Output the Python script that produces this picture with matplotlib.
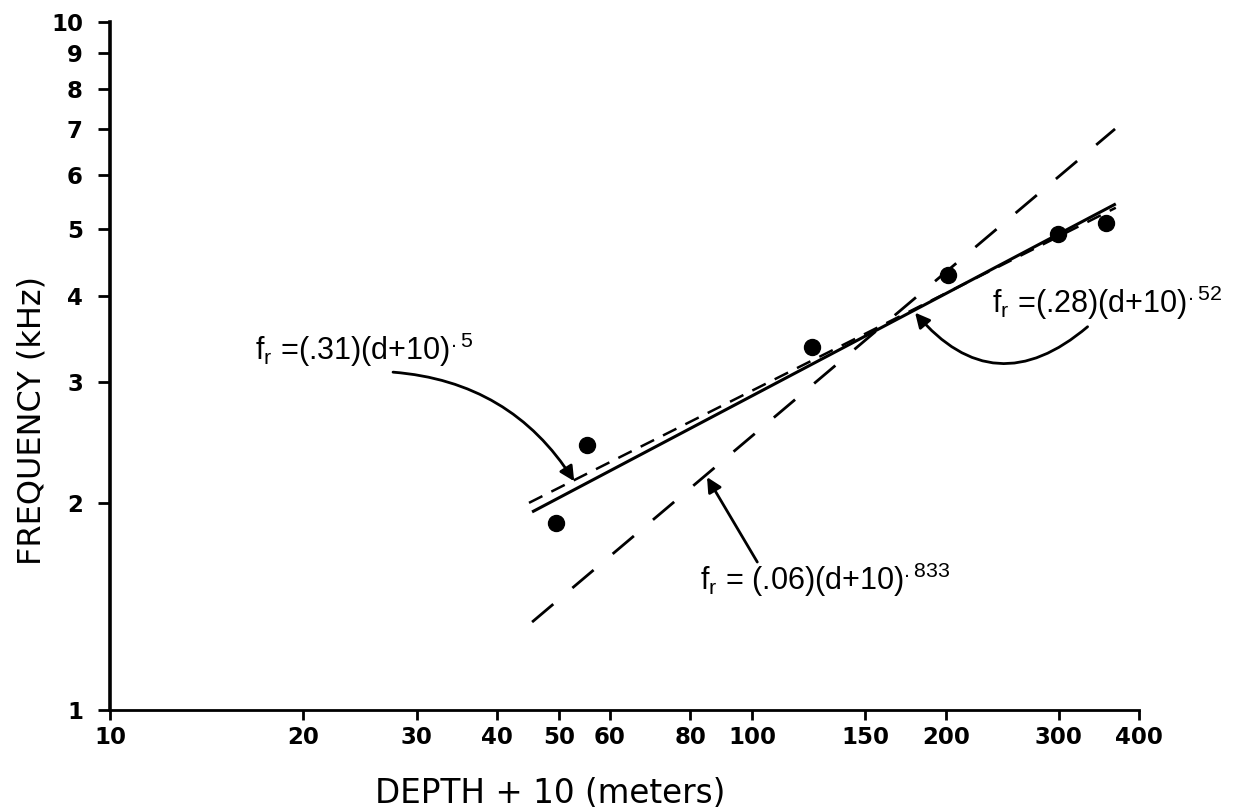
import matplotlib
matplotlib.use('Agg')
import matplotlib.pyplot as plt
from matplotlib.ticker import FixedLocator, FixedFormatter, NullLocator

# measured points: depth + 10 (m) vs resonance frequency (kHz)
depth_plus_10 = [49.5, 55.3, 124, 202, 299, 355]
freq_khz = [1.87, 2.43, 3.37, 4.29, 4.92, 5.10]

# fitted lines, end points
fit_52_x = [45.4, 368]
fit_52_y = [1.94, 5.44]      # fr = (.28)(d+10)^.52  (solid)
fit_5_x = [44.9, 368]
fit_5_y = [2.00, 5.37]       # fr = (.31)(d+10)^.5   (short dash)
fit_833_x = [45.4, 367]
fit_833_y = [1.342, 6.99]    # fr = (.06)(d+10)^.833 (long dash)

x_ticks = [10, 20, 30, 40, 50, 60, 80, 100, 150, 200, 300, 400]
y_ticks = [1, 2, 3, 4, 5, 6, 7, 8, 9, 10]

plt.rcParams['font.family'] = ['DejaVu Sans']
eq_font = dict(family=['Liberation Sans', 'DejaVu Sans'], fontsize=22)

fig = plt.figure(figsize=(12.45, 8.10), dpi=100)
ax = fig.add_axes([0.0884, 0.1235, 0.8265, 0.8494])

ax.set_xscale('log')
ax.set_yscale('log')
ax.set_xlim(10, 400)
ax.set_ylim(1, 10)

# lines
ax.plot(fit_52_x, fit_52_y, color='black', lw=2.2, solid_capstyle='butt')
ax.plot(fit_5_x, fit_5_y, color='black', lw=1.8, linestyle=(0, (6, 4)))
ax.plot(fit_833_x, fit_833_y, color='black', lw=2.0, linestyle=(0, (10, 9)))
ax.plot(depth_plus_10, freq_khz, 'o', color='black', ms=11.5, clip_on=False)

# ticks
ax.xaxis.set_major_locator(FixedLocator(x_ticks))
ax.xaxis.set_major_formatter(FixedFormatter([str(v) for v in x_ticks]))
ax.xaxis.set_minor_locator(NullLocator())
ax.yaxis.set_major_locator(FixedLocator(y_ticks))
ax.yaxis.set_major_formatter(FixedFormatter([str(v) for v in y_ticks]))
ax.yaxis.set_minor_locator(NullLocator())

for side in ['top', 'right']:
    ax.spines[side].set_visible(False)
ax.spines['left'].set_linewidth(2.6)
ax.spines['bottom'].set_linewidth(2.0)

ax.tick_params(axis='y', direction='out', length=8.5, width=2.0, pad=11, labelsize=16.5)
ax.tick_params(axis='x', direction='out', length=7.5, width=2.0, pad=4, labelsize=16.5)
for lab in ax.get_xticklabels() + ax.get_yticklabels():
    lab.set_fontweight('bold')

# axis titles
ax.set_xlabel('DEPTH + 10 (meters)', fontsize=23.5, va='center')
ax.xaxis.set_label_coords(0.4276, -0.122)
ax.set_ylabel('FREQUENCY (kHz)', fontsize=23, va='center')
ax.yaxis.set_label_coords(-0.0758, 0.42)

# equation labels and arrows
arrow = dict(arrowstyle='-|>', color='black', lw=2, mutation_scale=22, shrinkA=0, shrinkB=0)

ax.text(0.141, 0.523, r'f$_\mathregular{r}$ =(.31)(d+10)$^\mathregular{{.}5}$',
        transform=ax.transAxes, ha='left', va='center', **eq_font)
ax.annotate('', xy=(52.8, 2.15), xytext=(0.275, 0.491), textcoords='axes fraction',
            arrowprops=dict(arrow, connectionstyle='arc3,rad=-0.25'))

ax.text(0.573, 0.189, r'f$_\mathregular{r}$ = (.06)(d+10)$^\mathregular{{.}833}$',
        transform=ax.transAxes, ha='left', va='center', **eq_font)
ax.annotate('', xy=(85.0, 2.18), xytext=(0.629, 0.215), textcoords='axes fraction',
            arrowprops=arrow)

ax.text(0.857, 0.5916, r'f$_\mathregular{r}$ =(.28)(d+10)$^\mathregular{{.}52}$',
        transform=ax.transAxes, ha='left', va='center', **eq_font)
ax.annotate('', xy=(179.2, 3.78), xytext=(0.950, 0.557), textcoords='axes fraction',
            arrowprops=dict(arrow, connectionstyle='arc3,rad=-0.5'))

fig.savefig('out.png', dpi=100)
